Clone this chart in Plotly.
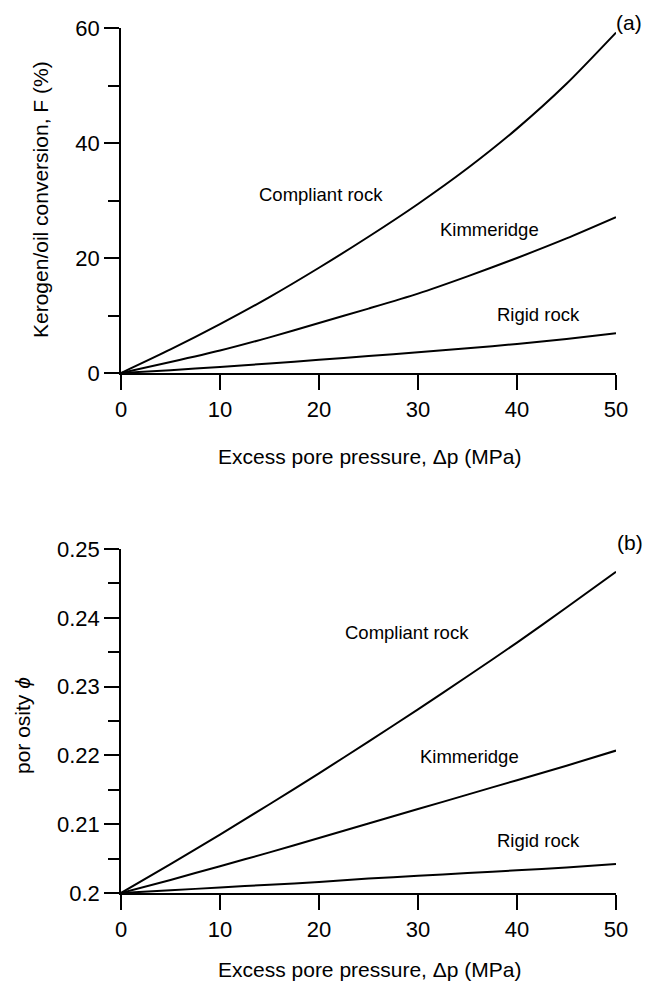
import plotly.graph_objects as go

# ---------------- data ----------------
pressure = [0, 5, 10, 15, 20, 25, 30, 35, 40, 45, 50]  # MPa

# (a) kerogen/oil conversion F (%)
conv_compliant = [0, 4.1, 8.5, 13.2, 18.3, 23.7, 29.4, 35.6, 42.5, 50.3, 59.2]
conv_kimmeridge = [0, 1.9, 3.9, 6.2, 8.7, 11.2, 13.8, 16.8, 20.0, 23.4, 27.1]
conv_rigid = [0, 0.5, 1.05, 1.65, 2.3, 2.95, 3.6, 4.3, 5.05, 5.9, 6.9]

# (b) porosity
por_compliant = [0.2, 0.2042, 0.2085, 0.2129, 0.2174, 0.2220, 0.2267, 0.2315, 0.2364, 0.2415, 0.2467]
por_kimmeridge = [0.2, 0.2019, 0.2039, 0.2059, 0.2080, 0.2101, 0.2122, 0.2143, 0.2164, 0.2185, 0.2207]
por_rigid = [0.2, 0.2004, 0.2008, 0.2012, 0.2016, 0.2021, 0.2025, 0.2029, 0.2033, 0.2037, 0.2042]

curve_names = ["Compliant rock", "Kimmeridge", "Rigid rock"]
label_x_a = [20.2, 37.2, 42.2]
label_y_a = [31.0, 24.9, 10.1]
label_x_b = [28.9, 35.2, 42.2]
label_y_b = [0.2378, 0.2198, 0.2077]

x_ticks = [0, 10, 20, 30, 40, 50]
y_ticks_a = [0, 20, 40, 60]
y_ticks_b = [0.2, 0.21, 0.22, 0.23, 0.24, 0.25]
y_ticktext_b = ["0.2", "0.21", "0.22", "0.23", "0.24", "0.25"]

x_title = "Excess pore pressure, Δp (MPa)"
y_title_a = "Kerogen/oil conversion, F (%)"
y_title_b = "por osity <i>ϕ</i>"

# ---------------- figure ----------------
FONT = "Liberation Sans, Arial, Helvetica, sans-serif"
W, H = 645, 984
# target plot box in screen pixels (page margin removed below)
LEFT, RIGHT = 121, 616
TOP_A, BOT_A = 28, 373
TOP_B, BOT_B = 549, 893
ML = LEFT
MR = W - RIGHT
MT = TOP_A
MB = H - BOT_B
PH = H - MT - MB
PW = W - ML - MR


def py(pix):  # screen row -> paper y
    return (H - MB - pix) / PH


def px(pix):  # screen column -> paper x
    return (pix - ML) / PW


fig = go.Figure()
line = dict(color="black", width=2, shape="spline", smoothing=0.7)
for ys in (conv_compliant, conv_kimmeridge, conv_rigid):
    fig.add_trace(go.Scatter(x=pressure, y=ys, mode="lines", line=line,
                             xaxis="x", yaxis="y", showlegend=False, hoverinfo="skip"))
for ys in (por_compliant, por_kimmeridge, por_rigid):
    fig.add_trace(go.Scatter(x=pressure, y=ys, mode="lines", line=line,
                             xaxis="x2", yaxis="y2", showlegend=False, hoverinfo="skip"))

tickfont = dict(family=FONT, size=22, color="black")
common_x = dict(range=[0, 50], tickvals=x_ticks, ticks="outside", ticklen=15, tickwidth=1.5,
                tickcolor="black", showline=True, linecolor="black", linewidth=1.5,
                showgrid=False, zeroline=False, tickfont=tickfont, ticklabelstandoff=1)
common_y = dict(ticks="outside", ticklen=15, tickwidth=1.5, tickcolor="black",
                showline=True, linecolor="black", linewidth=1.5, showgrid=False,
                zeroline=False, tickfont=tickfont, ticklabelstandoff=0)

fig.update_layout(
    width=W, height=H,
    margin=dict(l=ML, r=MR, t=MT, b=MB),
    paper_bgcolor="white", plot_bgcolor="white",
    font=dict(family=FONT, color="black"),
    xaxis=dict(domain=[0, 1], anchor="y", **common_x),
    yaxis=dict(domain=[py(BOT_A), 1.0], anchor="x", range=[0, 60], tickvals=y_ticks_a,
               minor=dict(dtick=10, ticks="outside", ticklen=11, tickwidth=1.5, tickcolor="black"),
               **common_y),
    xaxis2=dict(domain=[0, 1], anchor="y2", **common_x),
    yaxis2=dict(domain=[0, py(TOP_B)], anchor="x2", range=[0.2, 0.25], tickvals=y_ticks_b,
                ticktext=y_ticktext_b,
                minor=dict(dtick=0.005, ticks="outside", ticklen=11, tickwidth=1.5, tickcolor="black"),
                **common_y),
)

ctr = dict(showarrow=False, xanchor="center", yanchor="middle")
lab_font = dict(family=FONT, size=18.5, color="black")
for name, x, y in zip(curve_names, label_x_a, label_y_a):
    fig.add_annotation(x=x, y=y, xref="x", yref="y", text=name, font=lab_font, **ctr)
for name, x, y in zip(curve_names, label_x_b, label_y_b):
    fig.add_annotation(x=x, y=y, xref="x2", yref="y2", text=name, font=lab_font, **ctr)

title_font = dict(family=FONT, size=21, color="black")
fig.add_annotation(x=px(629), y=py(23), xref="paper", yref="paper", text="(a)",
                   font=title_font, **ctr)
fig.add_annotation(x=px(630), y=py(542), xref="paper", yref="paper", text="(b)",
                   font=title_font, **ctr)
fig.add_annotation(x=px(369), y=py(456), xref="paper", yref="paper", text=x_title,
                   font=title_font, **ctr)
fig.add_annotation(x=px(369), y=py(969), xref="paper", yref="paper", text=x_title,
                   font=title_font, **ctr)
fig.add_annotation(x=px(40), y=py(200), xref="paper", yref="paper", text=y_title_a,
                   textangle=-90, font=title_font, **ctr)
fig.add_annotation(x=px(22), y=py(726), xref="paper", yref="paper", text=y_title_b,
                   textangle=-90, font=title_font, **ctr)

fig.write_html(
    "out.html",
    config={"displayModeBar": False},
    post_script="document.body.style.margin='0';document.body.style.overflow='hidden';",
)
